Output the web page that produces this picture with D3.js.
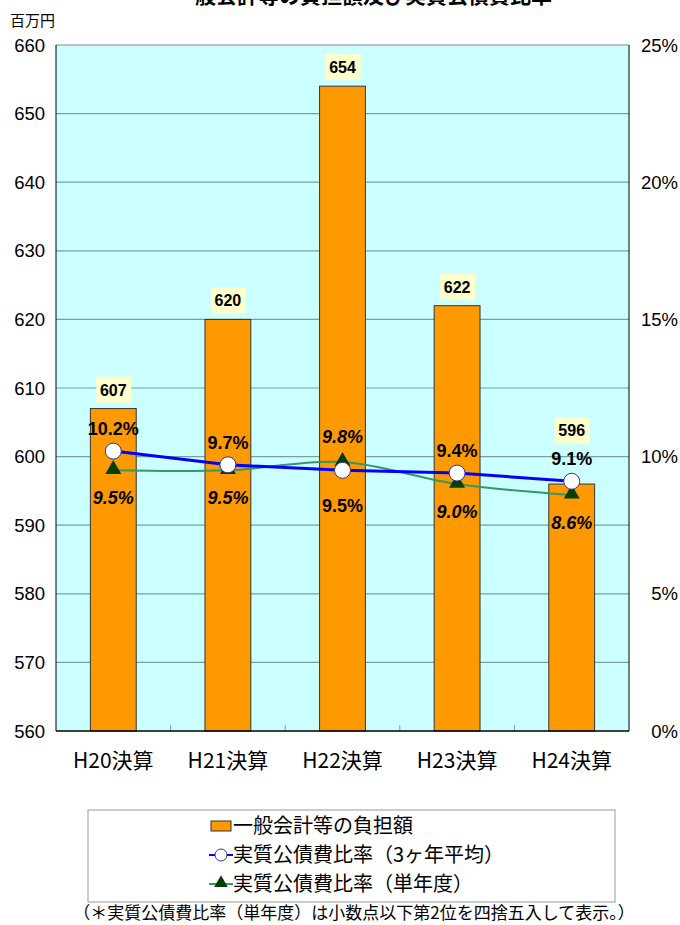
<!DOCTYPE html>
<html><head><meta charset="utf-8">
<script src="https://cdn.jsdelivr.net/npm/d3@7"></script>
<style>body{margin:0;background:#fff}svg{display:block}</style>
</head><body>
<script>
const categories = ["H20決算","H21決算","H22決算","H23決算","H24決算"];
const burden = [607, 620, 654, 622, 596];
const avg3 = [10.2, 9.7, 9.5, 9.4, 9.1];
const single = [9.5, 9.5, 9.8, 9.0, 8.6];
const leftTicks = [560,570,580,590,600,610,620,630,640,650,660];
const rightTicks = [0,5,10,15,20,25];
// label placement (layout): -1 above, +1 below
const avgSide = [-1,-1,1,-1,-1];
const singleSide = [1,1,-1,1,1];

const W=680,H=925;
const m={l:56,r:629,t:45,b:731};
const svg=d3.select("body").append("svg").attr("width",W).attr("height",H);
const font='"Noto Sans CJK JP", sans-serif';
const numFont='"Liberation Sans", sans-serif';

const x=d3.scaleBand().domain(categories).range([m.l,m.r]).paddingInner(0).paddingOuter(0);
const y=d3.scaleLinear().domain([560,660]).range([m.b,m.t]);
const y2=d3.scaleLinear().domain([0,25]).range([m.b,m.t]);

// title (clipped at top, as in the reference)
svg.append("text").attr("x",363).attr("y",3).attr("text-anchor","middle")
  .attr("font-family",font).attr("font-size",21).attr("font-weight","bold").text("一般会計等の負担額及び実質公債費比率");

svg.append("rect").attr("x",m.l).attr("y",m.t).attr("width",m.r-m.l).attr("height",m.b-m.t).attr("fill","#CCFFFF");

// grid
svg.append("g").selectAll("line").data(leftTicks.slice(1)).join("line")
  .attr("x1",m.l).attr("x2",m.r).attr("y1",d=>y(d)).attr("y2",d=>y(d))
  .attr("stroke",d=>d===660?"#888":"#7f9f9f").attr("stroke-width",1.2);

// x ticks at boundaries
svg.append("g").selectAll("line").data(categories.slice(1)).join("line")
  .attr("x1",d=>x(d)).attr("x2",d=>x(d)).attr("y1",m.b).attr("y2",m.b-6)
  .attr("stroke","#7f9f9f");

// bars
const bw=x.bandwidth()*0.4;
svg.append("g").selectAll("rect").data(burden).join("rect")
  .attr("x",(d,i)=>x(categories[i])+x.bandwidth()/2-bw/2).attr("width",bw)
  .attr("y",d=>y(d)).attr("height",d=>m.b-y(d))
  .attr("fill","#FF9900").attr("stroke","#333").attr("stroke-width",1);

// borders
svg.append("line").attr("x1",m.l).attr("x2",m.l).attr("y1",m.t).attr("y2",m.b).attr("stroke","#000");
svg.append("line").attr("x1",m.r).attr("x2",m.r).attr("y1",m.t).attr("y2",m.b).attr("stroke","#000");
svg.append("line").attr("x1",m.l).attr("x2",m.r).attr("y1",m.b).attr("y2",m.b).attr("stroke","#000").attr("stroke-width",1.5);

const cx=i=>x(categories[i])+x.bandwidth()/2;

// lines
svg.append("path").datum(single).attr("fill","none").attr("stroke","#339966").attr("stroke-width",2)
  .attr("d",d3.line().x((d,i)=>cx(i)).y(d=>y2(d)).curve(d3.curveCatmullRom.alpha(0.5)));
svg.append("path").datum(avg3).attr("fill","none").attr("stroke","#0000FF").attr("stroke-width",3)
  .attr("d",d3.line().x((d,i)=>cx(i)).y(d=>y2(d)));

svg.append("g").selectAll("path").data(single).join("path")
  .attr("d",d3.symbol().type(d3.symbolTriangle).size(110))
  .attr("transform",(d,i)=>`translate(${cx(i)},${y2(d)-1})`).attr("fill","#004000");
svg.append("g").selectAll("circle").data(avg3).join("circle")
  .attr("cx",(d,i)=>cx(i)).attr("cy",d=>y2(d)).attr("r",8)
  .attr("fill","#fff").attr("stroke","#333399").attr("stroke-width",1);

// percent labels
const pf=d=>d.toFixed(1)+"%";
svg.append("g").selectAll("text").data(avg3).join("text")
  .attr("x",(d,i)=>cx(i)).attr("y",(d,i)=>y2(d)+(avgSide[i]<0?-16:42))
  .attr("text-anchor","middle").attr("font-family",numFont).attr("font-size",18).attr("font-weight","bold")
  .text(pf);
svg.append("g").selectAll("text").data(single).join("text")
  .attr("x",(d,i)=>cx(i)).attr("y",(d,i)=>y2(d)+(singleSide[i]<0?-19:34))
  .attr("text-anchor","middle").attr("font-family",numFont).attr("font-size",18).attr("font-weight","bold").attr("font-style","italic")
  .text(pf);

// bar value labels
const lg=svg.append("g");
burden.forEach((d,i)=>{
  let bottom=y(d)-6;
  const avgTop=y2(avg3[i])-16-17;
  if(avgSide[i]<0) bottom=Math.min(bottom,avgTop-5);
  lg.append("rect").attr("x",cx(i)-17).attr("y",bottom-26).attr("width",35).attr("height",26).attr("fill","#FFFFCC");
  lg.append("text").attr("x",cx(i)).attr("y",bottom-7).attr("text-anchor","middle")
    .attr("font-family",numFont).attr("font-size",16).attr("font-weight","bold").text(d);
});

// axes labels
svg.append("g").selectAll("text").data(leftTicks).join("text")
  .attr("x",45).attr("y",d=>y(d)+6.5).attr("text-anchor","end")
  .attr("font-family",numFont).attr("font-size",18.5).text(d=>d);
svg.append("g").selectAll("text").data(rightTicks).join("text")
  .attr("x",678).attr("y",d=>y2(d)+6.5).attr("text-anchor","end")
  .attr("font-family",numFont).attr("font-size",18.5).text(d=>d+"%");
svg.append("text").attr("x",10).attr("y",26).attr("font-family",font).attr("font-size",15).text("百万円");

svg.append("g").selectAll("text").data(categories).join("text")
  .attr("x",(d,i)=>cx(i)).attr("y",768).attr("text-anchor","middle")
  .attr("font-family",font).attr("font-size",21).text(d=>d);

// legend
svg.append("rect").attr("x",88).attr("y",810).attr("width",527).attr("height",92).attr("fill","#fff").attr("stroke","#999");
const items=[
  {t:"一般会計等の負担額",k:"bar"},
  {t:"実質公債費比率（3ヶ年平均）",k:"avg"},
  {t:"実質公債費比率（単年度）",k:"single"}];
items.forEach((it,i)=>{
  const yy=826+i*29;
  const g=svg.append("g");
  if(it.k==="bar"){
    g.append("rect").attr("x",211).attr("y",yy-5).attr("width",20).attr("height",10).attr("fill","#FF9900").attr("stroke","#333");
  } else if(it.k==="avg"){
    g.append("line").attr("x1",209).attr("x2",233).attr("y1",yy).attr("y2",yy).attr("stroke","#0000FF").attr("stroke-width",2);
    g.append("circle").attr("cx",221).attr("cy",yy).attr("r",6).attr("fill","#fff").attr("stroke","#333399");
  } else {
    g.append("line").attr("x1",209).attr("x2",233).attr("y1",yy).attr("y2",yy).attr("stroke","#339966").attr("stroke-width",2);
    g.append("path").attr("d",d3.symbol().type(d3.symbolTriangle).size(80)).attr("transform",`translate(221,${yy-1})`).attr("fill","#004000");
  }
  g.append("text").attr("x",233).attr("y",yy+7).attr("font-family",font).attr("font-size",20).text(it.t);
});

svg.append("text").attr("x",354).attr("y",919).attr("text-anchor","middle").attr("font-family",font).attr("font-size",17)
  .text("（＊実質公債費比率（単年度）は小数点以下第2位を四捨五入して表示。）");
</script>
</body></html>
